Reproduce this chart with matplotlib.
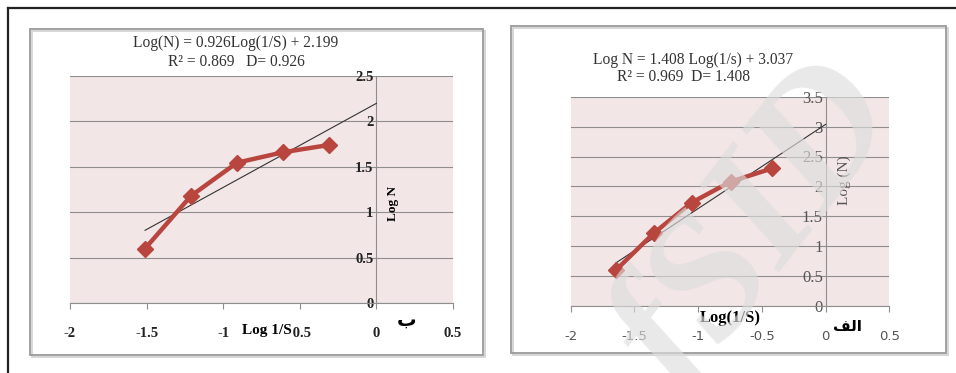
import matplotlib
matplotlib.use("Agg")
import matplotlib.pyplot as plt
from matplotlib.patches import Rectangle
from matplotlib.lines import Line2D

# log(1/s) vs log(N) for the two cases
xb = [-1.51, -1.21, -0.91, -0.61, -0.31]
yb = [0.60, 1.18, 1.545, 1.66, 1.74]
slope_b, icpt_b = 0.926, 2.199

xa = [-1.645, -1.35, -1.05, -0.745, -0.42]
ya = [0.60, 1.215, 1.73, 2.08, 2.30]
slope_a, icpt_a = 1.408, 3.037

xticks = [-2, -1.5, -1, -0.5, 0, 0.5]
xtick_labels = ["-2", "-1.5", "-1", "-0.5", "0", "0.5"]

W, H = 956, 373
PINK = "#F3E6E6"
RED = "#B8463F"
GRID = "#8E8E8E"
SERIF = ["Liberation Serif", "DejaVu Serif"]

fig = plt.figure(figsize=(W / 100, H / 100), dpi=100)


def px_axes(x0, y0, x1, y1):
    # pixel box (top-left origin) -> axes
    return fig.add_axes([x0 / W, 1 - y1 / H, (x1 - x0) / W, (y1 - y0) / H])


def px_box(x0, y0, x1, y1):
    fig.patches.append(Rectangle((x0 / W + 0.002, 1 - y1 / H - 0.005), (x1 - x0) / W, (y1 - y0) / H,
                                 transform=fig.transFigure, fill=False, ec="#D0D0D0", lw=1.2, zorder=0))
    fig.patches.append(Rectangle((x0 / W, 1 - y1 / H), (x1 - x0) / W, (y1 - y0) / H,
                                 transform=fig.transFigure, fill=False, ec="#9A9A9A", lw=1.3, zorder=1))


def setup(ax, ymax, bold, col, ysize):
    ax.set_facecolor(PINK)
    ax.set_xlim(-2, 0.5)
    ax.set_ylim(0, ymax)
    for s in ("top", "right"):
        ax.spines[s].set_visible(False)
    ax.spines["left"].set_position(("data", 0))
    ax.spines["left"].set_color(GRID)
    ax.spines["bottom"].set_color(GRID)
    ax.spines["left"].set_linewidth(0.8)
    ax.spines["bottom"].set_linewidth(0.8)
    yt = [i * 0.5 for i in range(int(ymax / 0.5) + 1)]
    ax.set_yticks(yt)
    ax.set_yticklabels(["%g" % v for v in yt])
    ax.grid(axis="y", color=GRID, lw=0.8)
    ax.set_axisbelow(True)
    ax.set_xticks(xticks)
    ax.set_xticklabels(xtick_labels)
    ax.tick_params(axis="y", length=0, pad=2)
    ax.tick_params(axis="x", length=4, color=GRID, pad=13, direction="out")
    for lab in ax.get_xticklabels() + ax.get_yticklabels():
        lab.set_fontfamily(SERIF)
        lab.set_fontsize(10.5)
        lab.set_color(col)
        if bold:
            lab.set_fontweight("bold")
    for lab in ax.get_yticklabels():
        lab.set_fontsize(ysize)


# outer frame
fig.add_artist(Line2D([8 / W, 1], [1 - 8 / H, 1 - 8 / H], transform=fig.transFigure, color="#222222", lw=1.6))
fig.add_artist(Line2D([8 / W, 8 / W], [0, 1 - 8 / H], transform=fig.transFigure, color="#222222", lw=1.6))

px_box(30, 29, 483, 355)
px_box(511, 26, 946, 353)

# left chart (b)
ax1 = px_axes(70, 76, 453, 303)
setup(ax1, 2.5, True, "#222222", 10.5)
tx = [xb[0], 0]
ax1.plot(tx, [slope_b * v + icpt_b for v in tx], color="#333333", lw=0.8, zorder=3)
ax1.plot(xb, yb, color=RED, lw=3.2, marker="D", ms=8.5, zorder=4)
ax1.text(-0.555, -0.119, "Log 1/S", transform=ax1.get_xaxis_transform(), ha="right", va="center",
         fontfamily=SERIF, fontweight="bold", fontsize=11,
         bbox=dict(fc="white", ec="none", pad=1.0))
ax1.text(0.11, 0.44, "Log N", transform=ax1.get_xaxis_transform(), rotation=90, ha="center", va="center",
         fontfamily=SERIF, fontweight="bold", fontsize=9.5)
ax1.text(0.2, -0.075, "\uFE8F", transform=ax1.get_xaxis_transform(), ha="center", va="center",
         fontfamily="DejaVu Sans", fontweight="bold", fontsize=14)
fig.text(236 / W, 1 - 43 / H, "Log(N) = 0.926Log(1/S) + 2.199", ha="center", va="center",
         fontfamily=SERIF, fontsize=11.2, color="#333333")
fig.text(236 / W, 1 - 62 / H, "R\u00b2 = 0.869   D= 0.926", ha="center", va="center",
         fontfamily=SERIF, fontsize=11.2, color="#333333")

# right chart (alef)
ax2 = px_axes(570.7, 96.7, 889.3, 306)
setup(ax2, 3.5, False, "#555555", 12)
for lab in ax2.get_xticklabels():
    lab.set_fontfamily("DejaVu Sans")
    lab.set_fontsize(9.5)
tx = [xa[0], 0]
ax2.plot(tx, [slope_a * v + icpt_a for v in tx], color="#333333", lw=0.8, zorder=3)
ax2.plot(xa, ya, color=RED, lw=3.2, marker="D", ms=8.5, zorder=4)
ax2.text(-0.75, -0.057, "Log(1/S)", transform=ax2.get_xaxis_transform(), ha="center", va="center",
         fontfamily=SERIF, fontweight="bold", fontsize=12)
ax2.text(0.15, 0.60, "Log (N)", transform=ax2.get_xaxis_transform(), rotation=90, ha="center", va="center",
         fontfamily=SERIF, fontsize=11, color="#555555")
ax2.text(0.17, -0.10, "\uFED2\uFEDF\uFE8D", transform=ax2.get_xaxis_transform(), ha="center", va="center",
         fontfamily="DejaVu Sans", fontweight="bold", fontsize=11)
fig.text(693 / W, 1 - 60 / H, "Log N = 1.408 Log(1/s) + 3.037", ha="center", va="center",
         fontfamily=SERIF, fontsize=11.2, color="#333333")
fig.text(684 / W, 1 - 77 / H, "R\u00b2 = 0.969  D= 1.408", ha="center", va="center",
         fontfamily=SERIF, fontsize=11.2, color="#333333")

# watermark
fig.text(758 / W, 1 - 228 / H, "fSID", ha="center", va="center", rotation=52,
         fontfamily=SERIF, fontweight="bold", fontstyle="italic", fontsize=128,
         color="#DDDDDD", alpha=0.65, zorder=10)

fig.savefig("out.png", dpi=100)
